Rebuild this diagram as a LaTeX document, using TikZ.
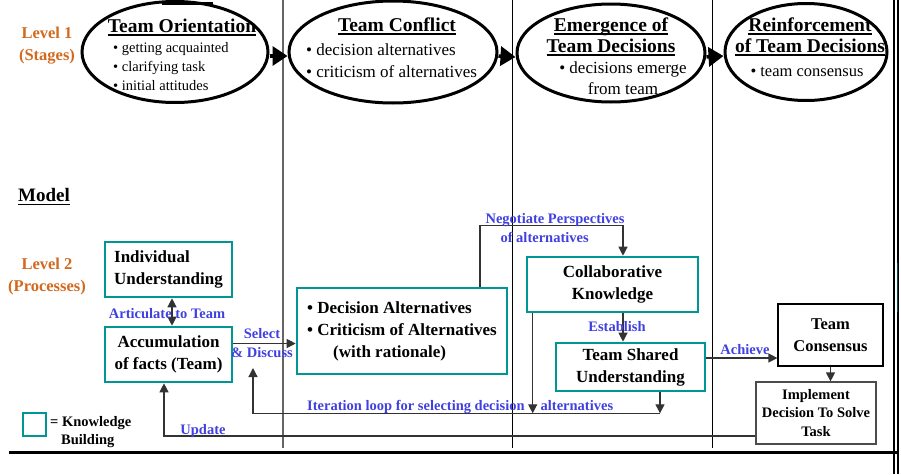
\documentclass[tikz,border=0pt]{standalone}
\usepackage{fontspec}
\setmainfont{Liberation Serif}
\usetikzlibrary{shapes.geometric,arrows.meta}

\definecolor{stageorange}{RGB}{210,105,30}
\definecolor{kbteal}{RGB}{0,150,150}
\definecolor{linkblue}{RGB}{64,64,224}

\newsavebox\headbox
\newcommand\heading[1]{\sbox\headbox{#1}\rlap{\usebox\headbox}\rule[-3.5pt]{\wd\headbox}{1.8pt}}
\newcommand\fsz[2]{\fontsize{#1}{#2}\selectfont}

\tikzset{
  stage/.style={ellipse, draw, line width=3pt, inner sep=0pt},
  stagearrow/.style={line width=3.5pt, -{Triangle[length=15pt,width=19pt]}},
  kbox/.style={draw=kbteal, line width=2.6pt, inner sep=0pt, align=center, font=\fsz{17}{22}\bfseries},
  plainbox/.style={draw, line width=1.2pt, inner sep=0pt, align=center},
  flow/.style={draw=black!80, line width=1.2pt, -{Triangle[length=9pt,width=9pt]}},
  linklabel/.style={text=linkblue, font=\fsz{14.5}{19}\bfseries, inner sep=0pt},
  levellabel/.style={text=stageorange, font=\fsz{16.5}{22}\bfseries, align=center, inner sep=0pt},
  titletext/.style={font=\fsz{19.5}{21}\bfseries, align=center, inner sep=0pt},
}

\begin{document}
\begin{tikzpicture}[x=1pt,y=-1pt]

%% page size (pixels of the reference)
\useasboundingbox (0,0) rectangle (901,474);

\def\lineBottom{448} % end of the column dividers

%% column dividers and frame
\draw[black!60, line width=1.5pt] (283,0) -- (283,\lineBottom);
\draw[line width=1pt] (512,0) -- (512,\lineBottom);
\draw[line width=1pt] (712,0) -- (712,\lineBottom);
\draw[line width=2pt] (894,0) -- (894,474);
\draw[line width=2pt] (897.5,0) -- (897.5,474);
\draw[kbteal!50!black, line width=1.5pt] (897.5,263) -- (897.5,312);
\draw[line width=3pt] (9,452) -- (897,452);
\draw[line width=3pt] (162,3) -- (213,3);

%% Level 1 : stages
\node[levellabel] (level1) at (47,46) {Level 1\\(Stages)};

\node[stage, minimum width=186pt, minimum height=101pt] (orient) at (175,52) {};
\node[stage, minimum width=208pt, minimum height=102pt] (conflict) at (393,52) {};
\node[stage, minimum width=188pt, minimum height=98pt] (emerge) at (611,53) {};
\node[stage, minimum width=162pt, minimum height=97pt] (reinforce) at (806,52) {};

\node[titletext] (orientT) at (182,27) {\heading{Team Orientation}};
\node[font=\fsz{14.5}{19}, align=left, inner sep=0pt, anchor=west] (orientB) at (113,67)
  {\textbullet{} getting acquainted\\\textbullet{} clarifying task\\\textbullet{} initial attitudes};

\node[titletext] (conflictT) at (397,26) {\heading{Team Conflict}};
\node[font=\fsz{17}{22}, align=left, inner sep=0pt, anchor=west] (conflictB) at (306,61)
  {\textbullet{} decision alternatives\\\textbullet{} criticism of alternatives};

\node[titletext] (emergeT) at (611,37) {\heading{Emergence of}\\\heading{Team Decisions}};
\node[font=\fsz{17}{21}, align=center, inner sep=0pt] (emergeB) at (623,78)
  {\textbullet{} decisions emerge\\from team};

\node[titletext] (reinforceT) at (810,37) {\heading{Reinforcement}\\\heading{of Team Decisions}};
\node[font=\fsz{16.5}{20}, inner sep=0pt] (reinforceB) at (807,72) {\textbullet{} team consensus};

\draw[stagearrow] ([yshift=-4pt]orient.east) -- ([yshift=-4pt]conflict.west);
\draw[stagearrow] ([yshift=-4pt]conflict.east) -- ([yshift=-4pt]emerge.west);
\draw[stagearrow] ([yshift=-4pt]emerge.east) -- ([yshift=-4pt]reinforce.west);

%% Model, Level 2 : processes
\node[font=\fsz{19}{21}\bfseries, inner sep=0pt, anchor=west] (model) at (18,197) {\heading{Model}};
\node[levellabel] (level2) at (47,277) {Level 2\\(Processes)};

\node[kbox, align=left, minimum width=127pt, minimum height=55pt] (indiv) at (168.5,269.5) {Individual\\Understanding};
\node[kbox, minimum width=127pt, minimum height=55pt] (accum) at (168.5,354.5) {Accumulation\\of facts (Team)};
\node[kbox, align=left, minimum width=210pt, minimum height=86pt] (dec) at (402,331)
  {\textbullet{} Decision Alternatives\\\textbullet{} Criticism of Alternatives\\\hspace*{26pt}(with rationale)};
\node[kbox, minimum width=171pt, minimum height=55pt] (collab) at (612.5,284.5) {Collaborative\\Knowledge};
\node[kbox, minimum width=149pt, minimum height=48pt] (shared) at (630.5,367) {Team Shared\\Understanding};
\node[plainbox, font=\fsz{16.5}{22}\bfseries, minimum width=105pt, minimum height=62pt] (cons) at (830.5,335) {Team\\Consensus};
\node[plainbox, draw=black!70, font=\fsz{14.5}{18.5}\bfseries, minimum width=120pt, minimum height=62pt] (impl) at (816,413)
  {Implement\\Decision To Solve\\Task};

%% connectors
\draw[flow, {Triangle[length=9pt,width=9pt]}-{Triangle[length=9pt,width=9pt]}] ([xshift=3.5pt]indiv.south) -- ([xshift=3.5pt]accum.north);
\draw[flow] ([yshift=11pt]accum.east) -- ([yshift=11pt]accum.east -| dec.west);
\draw[flow] ([xshift=78pt]dec.north) -- ++(0,-61) -| ([xshift=10.5pt]collab.north);
\draw[flow] ([xshift=10.5pt]collab.south) -- ([xshift=10.5pt]collab.south |- shared.north);
\draw[flow] ([yshift=9pt]shared.east) -- ([yshift=9pt]shared.east -| cons.west);
\draw[flow] (cons.south) -- (cons.south |- impl.north);

% iteration loop
\coordinate (loopend) at (253,368);
\draw[flow] ([xshift=7pt]collab.south west) -- ++(0,100);
\draw[flow] ([xshift=29.5pt]shared.south) -- ++(0,21) coordinate (loopR);
\draw[flow] (loopR) -| (loopend);

% update
\draw[flow] ([yshift=-23pt]impl.west) -| ([xshift=-4.5pt]accum.south);

%% connector labels
\node[linklabel] (articulate) at (167,314) {Articulate to Team};
\node[linklabel, align=center] (select) at (262,343) {Select\\\& Discuss};
\node[linklabel, align=left] (negotiate) at (555,228) {Negotiate Perspectives\\\hspace*{15pt}of alternatives};
\node[linklabel] (establish) at (617,327) {Establish};
\node[linklabel] (achieve) at (745,350) {Achieve};
\node[linklabel, anchor=west] (iterate) at (307,407) {Iteration loop for selecting decision\hspace{16pt}alternatives};
\node[linklabel] (update) at (203,431) {Update};

%% legend
\node[draw=kbteal, line width=2.6pt, minimum size=23pt, inner sep=0pt] (legbox) at (34.5,424.5) {};
\node[font=\fsz{14.5}{18}\bfseries, align=left, inner sep=0pt, anchor=west] (legtext) at (50,432)
  {= Knowledge\\\hspace*{11pt}Building};

\end{tikzpicture}
\end{document}
